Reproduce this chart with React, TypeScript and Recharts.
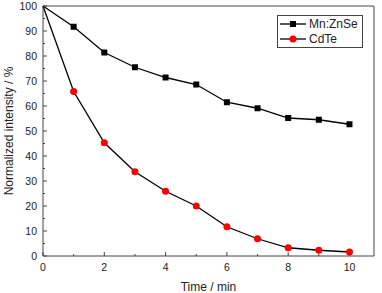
import { LineChart, Line, XAxis, YAxis, ReferenceLine, Legend, Label } from "recharts";

const TIME = [0, 1, 2, 3, 4, 5, 6, 7, 8, 9, 10];
const MN_ZNSE = [100, 91.7, 81.4, 75.5, 71.4, 68.6, 61.5, 59.1, 55.2, 54.5, 52.7];
const CDTE = [100, 65.8, 45.3, 33.7, 25.9, 20.0, 11.7, 6.9, 3.3, 2.3, 1.6];
const X_TICKS = [0, 1, 2, 3, 4, 5, 6, 7, 8, 9, 10];
const Y_TICKS = [0, 5, 10, 15, 20, 25, 30, 35, 40, 45, 50, 55, 60, 65, 70, 75, 80, 85, 90, 95, 100];

const data = TIME.map((t, i) => ({ t, mn: MN_ZNSE[i], cd: CDTE[i] }));

const AXIS = "#444";
const FONT = "Liberation Sans, Arial, sans-serif";

function XTick(props: any) {
  const { x, y, payload } = props;
  const major = payload.value % 2 === 0;
  return (
    <g>
      <line x1={x} x2={x} y1={y} y2={y - (major ? 4 : 2)} stroke={AXIS} />
      {major && (
        <text x={x} y={y + 15} textAnchor="middle" fontSize={10.5} fill="#222" fontFamily={FONT}>
          {payload.value}
        </text>
      )}
    </g>
  );
}

function YTick(props: any) {
  const { x, y, payload } = props;
  const major = payload.value % 10 === 0;
  return (
    <g>
      <line x1={x} x2={x + (major ? 4 : 2)} y1={y} y2={y} stroke={AXIS} />
      {major && (
        <text x={x - 6} y={y + 4} textAnchor="end" fontSize={10.5} fill="#222" fontFamily={FONT}>
          {payload.value}
        </text>
      )}
    </g>
  );
}

function SquareDot(props: any) {
  const { cx, cy, index } = props;
  if (index === 0) return <g key={`s-${index}`} />;
  return <rect key={`s-${index}`} x={cx - 3} y={cy - 3} width={6} height={6} fill="#000" />;
}

function RoundDot(props: any) {
  const { cx, cy, index } = props;
  if (index === 0) return <g key={`c-${index}`} />;
  return <circle key={`c-${index}`} cx={cx} cy={cy} r={3.5} fill="#ff0000" />;
}

function LegendBox() {
  const rows = [
    { name: "Mn:ZnSe", kind: "square" },
    { name: "CdTe", kind: "circle" },
  ];
  return (
    <svg width={86} height={33} style={{ display: "block" }}>
      <rect x={0.5} y={0.5} width={85} height={32} fill="#fff" stroke={AXIS} />
      {rows.map((r, i) => {
        const cy = 9 + i * 15;
        return (
          <g key={r.name}>
            <line x1={3} x2={29} y1={cy} y2={cy} stroke="#000" strokeWidth={1.3} />
            {r.kind === "square" ? (
              <rect x={13} y={cy - 3} width={6} height={6} fill="#000" />
            ) : (
              <circle cx={16} cy={cy} r={3.5} fill="#ff0000" />
            )}
            <text x={32} y={cy + 4} fontSize={12} fill="#222" fontFamily={FONT}>
              {r.name}
            </text>
          </g>
        );
      })}
    </svg>
  );
}

export default function App() {
  return (
    <div style={{ position: "absolute", left: 0, top: 0, background: "#fff" }}>
      <LineChart width={382} height={293} data={data} margin={{ top: 6, right: 8, left: 0, bottom: 0 }}>
        <XAxis
          dataKey="t"
          type="number"
          domain={[0, 10.8]}
          ticks={X_TICKS}
          interval={0}
          stroke={AXIS}
          tickLine={false}
          tickSize={0}
          tickMargin={0}
          tick={<XTick />}
          height={37}
        >
          <Label value="Time / min" position="insideBottom" offset={2} fontSize={12} fill="#222" fontFamily={FONT} />
        </XAxis>
        <YAxis
          type="number"
          domain={[0, 100]}
          ticks={Y_TICKS}
          interval={0}
          stroke={AXIS}
          tickLine={false}
          tickSize={0}
          tickMargin={0}
          tick={<YTick />}
          width={43}
        >
          <Label
            value="Normalized intensity / %"
            angle={-90}
            position="insideLeft"
            offset={9}
            style={{ textAnchor: "middle" }}
            fontSize={12}
            fill="#222"
            fontFamily={FONT}
          />
        </YAxis>
        <ReferenceLine y={100} stroke={AXIS} />
        <ReferenceLine x={10.8} stroke={AXIS} />
        <Legend
          layout="horizontal"
          verticalAlign="middle"
          align="center"
          content={<LegendBox />}
          wrapperStyle={{ position: "absolute", left: 277, top: 15, width: 86, height: 33 }}
        />
        <Line
          type="linear"
          dataKey="mn"
          name="Mn:ZnSe"
          stroke="#000"
          strokeWidth={1.3}
          dot={<SquareDot />}
          isAnimationActive={false}
        />
        <Line
          type="linear"
          dataKey="cd"
          name="CdTe"
          stroke="#000"
          strokeWidth={1.3}
          dot={<RoundDot />}
          isAnimationActive={false}
        />
      </LineChart>
    </div>
  );
}
